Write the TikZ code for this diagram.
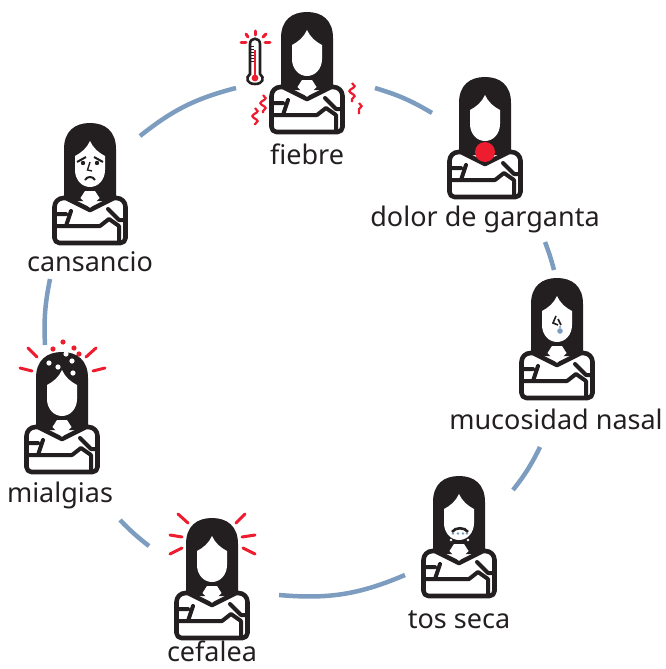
\documentclass[tikz,border=0pt]{standalone}
\usepackage{fontspec}
\setmainfont{Noto Sans}
\usetikzlibrary{decorations.pathmorphing}

\definecolor{ringblue}{HTML}{7C9DBF}
\definecolor{hotred}{HTML}{ED1C2E}
\definecolor{inkblack}{HTML}{231F20}

\tikzset{
  ring/.style = {draw = ringblue, line width = 4.5pt},
  ray/.style = {draw = hotred, line width = 3pt, line cap = round},
  heat/.style = {draw = hotred, line width = 2.2pt, decorate,
    decoration = {snake, amplitude = 2.6pt, segment length = 10pt}},
  symptom/.style = {anchor = base, text = inkblack, font = \fontsize{27pt}{32pt}\selectfont, inner sep = 0pt},
  woman/.pic = {
    \fill[inkblack] (-26, 78) -- (-26, 26)
      .. controls (-26, 8) and (-15, 0) .. (0, 0)
      .. controls (15, 0) and (26, 8) .. (26, 26) -- (26, 78) -- cycle;
    \fill[white] (0, 18) .. controls (-3, 25) and (-9, 30) .. (-15, 33)
      -- (-15, 47) .. controls (-15, 57) and (-8, 64) .. (0, 64)
      .. controls (8, 64) and (15, 57) .. (15, 47) -- (15, 33)
      .. controls (9, 30) and (3, 25) .. (0, 18) -- cycle;
    \draw[draw = inkblack, fill = white, line width = 4.6pt, line join = round]
      [rounded corners = 9pt] (-24, 75) -- (-35.5, 75) [rounded corners = 5pt] -- (-35.5, 120)
      -- (35.5, 120) [rounded corners = 9pt] -- (35.5, 75) [sharp corners] -- (24, 75) -- (0, 87) -- cycle;
    \fill[white] (-5, 68) -- (5, 68) -- (9.5, 75) -- (0, 85) -- (-9.5, 75) -- cycle;
    \draw[inkblack, line width = 4pt, line cap = round, line join = round]
      (-35, 91) -- (-24, 91) (-19, 88) -- (-24, 103) (-35, 103) -- (10, 103)
      -- (19, 96) -- (29, 103) -- (29, 118) (18, 86) -- (29, 97) -- (35, 97);
  }
}

\begin{document}
\begin{tikzpicture}[x = 1pt, y = -1pt]
  \useasboundingbox (0, 0) rectangle (665, 669);

  \coordinate (ringa) at (140, 136);
  \coordinate (ringb) at (236, 88);
  \coordinate (ringc) at (375, 88);
  \coordinate (ringd) at (432, 113);
  \coordinate (ringe) at (545, 242);
  \coordinate (ringf) at (554, 270);
  \coordinate (ringg) at (540, 447);
  \coordinate (ringh) at (513, 490);
  \coordinate (ringi) at (405, 575);
  \coordinate (ringj) at (279, 595);
  \coordinate (ringk) at (149, 546);
  \coordinate (ringl) at (120, 520);
  \coordinate (ringm) at (45, 345);
  \coordinate (ringn) at (50, 279);

  \draw[ring] (ringa) to[bend left = 12] (ringb);
  \draw[ring] (ringc) to[bend left = 7] (ringd);
  \draw[ring] (ringe) to[bend left = 3] (ringf);
  \draw[ring] (ringg) to[bend left = 6] (ringh);
  \draw[ring] (ringi) to[bend left = 14] (ringj);
  \draw[ring] (ringk) to[bend left = 4] (ringl);
  \draw[ring] (ringm) to[bend left = 7] (ringn);

  \pic at (307, 12) {woman};
  \pic at (485, 77) {woman};
  \pic at (557, 278) {woman};
  \pic at (459, 476) {woman};
  \pic at (212, 518) {woman};
  \pic at (62, 352) {woman};
  \pic at (90, 123) {woman};

  \node[symptom] (fiebre) at (307, 164) {fiebre};
  \node[symptom] (garganta) at (485, 226) {dolor de garganta};
  \node[symptom] (nasal) at (556, 429) {mucosidad nasal};
  \node[symptom] (tos) at (459, 628) {tos seca};
  \node[symptom] (cefalea) at (212, 661) {cefalea};
  \node[symptom] (mialgias) at (60, 502) {mialgias};
  \node[symptom] (cansancio) at (90, 271) {cansancio};

  \draw[draw = inkblack, fill = white, line width = 2.6pt]
    (250, 74) -- (250, 44) .. controls (250, 37) and (260, 37) .. (260, 44) -- (260, 74)
    .. controls (265, 78) and (263, 84) .. (255, 84)
    .. controls (247, 84) and (245, 78) .. (250, 74) -- cycle;
  \draw[hotred, line width = 1.6pt] (255, 50) -- (255, 77);
  \fill[hotred] (255, 78) circle [radius = 3.4pt];
  \foreach \y in {47, 50, 53, 56, 59, 62} {
    \draw[inkblack, line width = 1pt] (251, \y) -- (254, \y);
  }
  \foreach \a/\b/\c/\d in {255/31/255/35, 246/34/248/37, 266/34/263/37, 241/43/246/43, 265/43/270/43} {
    \draw[ray] (\a, \b) -- (\c, \d);
  }
  \draw[heat] (263, 95) -- (263, 113);
  \draw[heat] (255, 108) -- (255, 125);
  \draw[heat] (352, 83) -- (352, 102);
  \draw[heat] (359, 103) -- (359, 114);

  \fill[hotred] (485, 152) circle [radius = 10pt];

  \draw[inkblack, line width = 1.6pt] (556, 316) -- (553, 323) -- (558, 325) (558, 319) -- (561, 325);
  \fill[ringblue] (560, 327) circle [radius = 1.2pt];
  \fill[ringblue] (560, 331) circle [radius = 2.8pt];

  \draw[inkblack, line width = 2.6pt] (452, 532) .. controls (455, 527) and (465, 527) .. (468, 532);
  \foreach \x in {453, 458, 463, 467} {
    \fill[ringblue] (\x, 533.5) circle [radius = 1.3pt];
  }
  \foreach \x/\y in {451/540, 459/538, 468/540, 452/536, 467/536} {
    \fill[white] (\x, \y) circle [radius = 1.4pt];
  }

  \foreach \a/\b/\c/\d in {178/514/188/523, 170/535/182/537, 170/554/182/548, 245/514/236/523, 255/535/242/537, 255/554/243/548} {
    \draw[ray] (\a, \b) -- (\c, \d);
  }

  \foreach \a/\b/\c/\d in {28/348/37/357, 20/368/32/371, 96/348/86/357, 105/368/93/371} {
    \draw[ray] (\a, \b) -- (\c, \d);
  }
  \foreach \x/\y in {53/349, 63/342, 74/348, 79/354} {
    \fill[hotred] (\x, \y) circle [radius = 2.6pt];
  }
  \foreach \x/\y in {66/354, 49/363, 58/367, 72/361, 73/373} {
    \fill[white] (\x, \y) circle [radius = 2.6pt];
  }

  \draw[inkblack, line width = 2pt] (77, 162) -- (86, 157) (103, 162) -- (94, 157);
  \fill[inkblack] (83, 163) circle [radius = 2.2pt] (97, 163) circle [radius = 2.2pt];
  \draw[inkblack, line width = 1.4pt] (90, 162) -- (87.5, 170) -- (92, 171);
  \draw[inkblack, line width = 2pt] (85, 180) .. controls (87, 176) and (93, 176) .. (95, 180);
\end{tikzpicture}
\end{document}
